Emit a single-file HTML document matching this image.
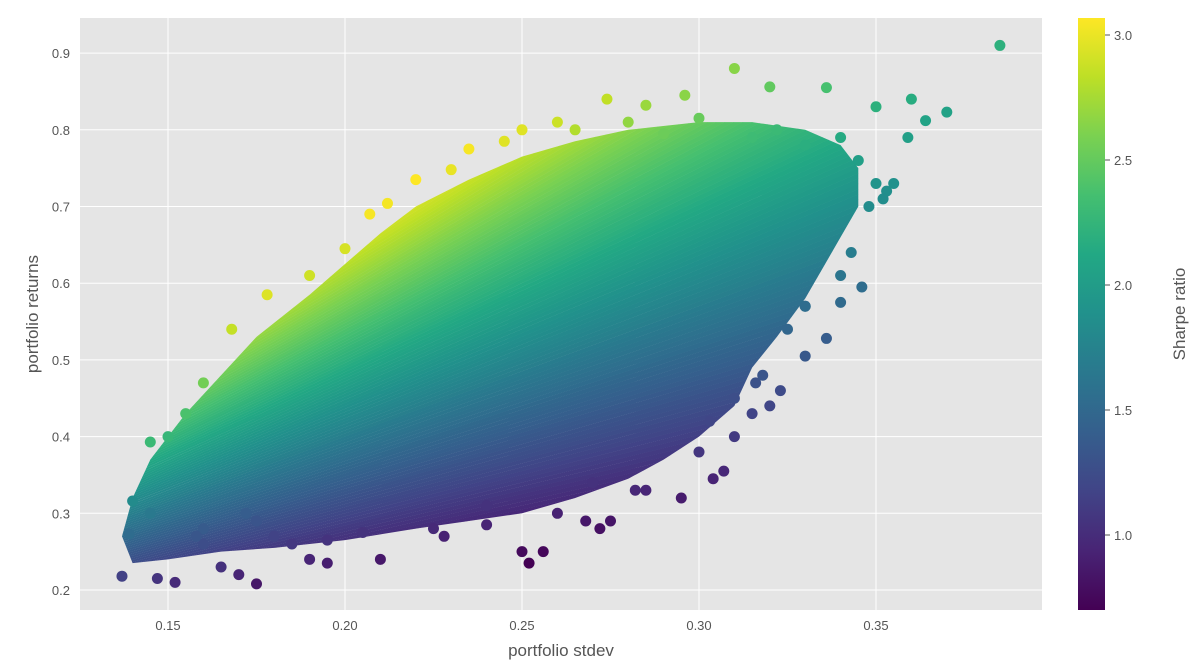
<!DOCTYPE html>
<html><head><meta charset="utf-8"><style>
html,body{margin:0;padding:0;background:#fff;width:1200px;height:672px;overflow:hidden}
svg{display:block}
text{font-family:"Liberation Sans",sans-serif}
</style></head><body>
<svg id="chart" width="1200" height="672" xmlns="http://www.w3.org/2000/svg">
<defs>
<linearGradient id="vir" x1="0" y1="1" x2="0" y2="0">
<stop offset="0" stop-color="#440154"/><stop offset="0.1" stop-color="#482475"/><stop offset="0.2" stop-color="#414487"/><stop offset="0.3" stop-color="#355f8d"/><stop offset="0.4" stop-color="#2a788e"/><stop offset="0.5" stop-color="#21918c"/><stop offset="0.6" stop-color="#22a884"/><stop offset="0.7" stop-color="#44bf70"/><stop offset="0.8" stop-color="#7ad151"/><stop offset="0.9" stop-color="#bddf26"/><stop offset="1" stop-color="#fde725"/>
</linearGradient>
<clipPath id="plotclip"><rect x="80" y="18" width="962" height="592"/></clipPath>
<clipPath id="cloudclip"><polygon id="cloudpoly"/></clipPath>
</defs>
<rect x="80" y="18" width="962" height="592" fill="#e5e5e5"/>
<g id="grid"></g>
<g id="cloud" clip-path="url(#cloudclip)"></g>
<g id="points" clip-path="url(#plotclip)"></g>
<g id="xticks"></g><g id="yticks"></g>
<text x="561" y="656" font-size="17" fill="#555" text-anchor="middle">portfolio stdev</text>
<text transform="translate(38,314) rotate(-90)" font-size="17" fill="#555" text-anchor="middle">portfolio returns</text>
<rect x="1078" y="18" width="27" height="592" fill="url(#vir)"/>
<g id="cbticks"></g>
<text transform="translate(1185,314) rotate(-90)" font-size="17" fill="#555" text-anchor="middle">Sharpe ratio</text>
</svg>
<script>
const xTicks=[0.15,0.20,0.25,0.30,0.35];
const xTickLabels=["0.15","0.20","0.25","0.30","0.35"];
const yTicks=[0.2,0.3,0.4,0.5,0.6,0.7,0.8,0.9];
const yTickLabels=["0.2","0.3","0.4","0.5","0.6","0.7","0.8","0.9"];
const cbTicks=[1.0,1.5,2.0,2.5,3.0];
const cbTickLabels=["1.0","1.5","2.0","2.5","3.0"];
const riskFree=0.06;
const cloudStd=[0.14,0.145,0.155,0.165,0.175,0.19,0.20,0.21,0.22,0.235,0.25,0.265,0.28,0.30,0.315,0.33,0.34,0.345,0.345,0.34,0.335,0.33,0.322,0.315,0.31,0.30,0.29,0.28,0.265,0.25,0.235,0.22,0.20,0.18,0.165,0.15,0.14,0.137];
const cloudRet=[0.32,0.37,0.43,0.48,0.53,0.585,0.625,0.665,0.70,0.735,0.765,0.785,0.80,0.81,0.81,0.80,0.78,0.75,0.70,0.66,0.62,0.58,0.53,0.49,0.44,0.40,0.37,0.345,0.32,0.30,0.29,0.28,0.265,0.255,0.25,0.24,0.235,0.27];
const ptStd=[0.385,0.37,0.364,0.36,0.359,0.355,0.35,0.348,0.346,0.34,0.33,0.336,0.323,0.32,0.31,0.32,0.336,0.296,0.274,0.26,0.25,0.235,0.22,0.212,0.207,0.19,0.178,0.168,0.145,0.14,0.139,0.137,0.147,0.152,0.175,0.17,0.19,0.195,0.21,0.228,0.25,0.252,0.256,0.268,0.272,0.285,0.295,0.304,0.307,0.31,0.315,0.316,0.325,0.33,0.34,0.343,0.353,0.34,0.322,0.285,0.245,0.23,0.2,0.16,0.155,0.15,0.145,0.16,0.165,0.18,0.24,0.26,0.282,0.3,0.303,0.318,0.265,0.28,0.29,0.275,0.205,0.185,0.16,0.158,0.175,0.3,0.315,0.33,0.345,0.35,0.352,0.33,0.31,0.27,0.24,0.225,0.195,0.172];
const ptRet=[0.91,0.823,0.812,0.84,0.79,0.73,0.83,0.70,0.595,0.575,0.505,0.528,0.46,0.44,0.88,0.856,0.855,0.845,0.84,0.81,0.80,0.775,0.735,0.704,0.69,0.61,0.585,0.54,0.393,0.316,0.273,0.218,0.215,0.21,0.208,0.22,0.24,0.235,0.24,0.27,0.25,0.235,0.25,0.29,0.28,0.33,0.32,0.345,0.355,0.40,0.43,0.47,0.54,0.57,0.61,0.64,0.72,0.79,0.80,0.832,0.785,0.748,0.645,0.47,0.43,0.40,0.30,0.26,0.23,0.27,0.285,0.30,0.33,0.38,0.42,0.48,0.80,0.81,0.795,0.29,0.275,0.26,0.28,0.27,0.29,0.815,0.79,0.78,0.76,0.73,0.71,0.57,0.45,0.34,0.31,0.28,0.265,0.30];

const NS="http://www.w3.org/2000/svg";
const X=v=>168+(v-0.15)*3540;
const Y=v=>590-(v-0.2)*767;
const CB=v=>535-(v-1.0)*250;
const vir=["#440154","#482475","#414487","#355f8d","#2a788e","#21918c","#22a884","#44bf70","#7ad151","#bddf26","#fde725"];
function hx(c){return [1,3,5].map(i=>parseInt(c.substr(i,2),16));}
function color(s){let t=(s-0.70)/(3.07-0.70);t=Math.max(0,Math.min(1,t))*10;const i=Math.min(9,Math.floor(t)),f=t-i;const a=hx(vir[i]),b=hx(vir[i+1]);return "rgb("+a.map((v,k)=>Math.round(v+(b[k]-v)*f)).join(",")+")";}
function mk(tag,attrs,parent){const e=document.createElementNS(NS,tag);for(const k in attrs)e.setAttribute(k,attrs[k]);parent.appendChild(e);return e;}
const grid=document.getElementById('grid');
xTicks.forEach((v,i)=>{const l=mk('line',{x1:X(v),x2:X(v),y1:18,y2:610,stroke:'#fff','stroke-width':1},grid);


const t=mk('text',{x:X(v),y:630,'font-size':13,fill:'#555','text-anchor':'middle'},document.getElementById('xticks'));t.textContent=xTickLabels[i];

});
yTicks.forEach((v,i)=>{const l=mk('line',{x1:80,x2:1042,y1:Y(v),y2:Y(v),stroke:'#fff','stroke-width':1},grid);


const t=mk('text',{x:70,y:Y(v)+5,'font-size':13,fill:'#555','text-anchor':'end'},document.getElementById('yticks'));t.textContent=yTickLabels[i];

});
cbTicks.forEach((v,i)=>{const g=document.getElementById('cbticks');mk('line',{x1:1105,x2:1110,y1:CB(v),y2:CB(v),stroke:'#555'},g);
const t=mk('text',{x:1114,y:CB(v)+5,'font-size':13,fill:'#555'},g);t.textContent=cbTickLabels[i];

});
document.getElementById('cloudpoly').setAttribute('points',cloudStd.map((s,i)=>X(s)+','+Y(cloudRet[i])).join(' '));
const cloud=document.getElementById('cloud');


const ox=X(0),oy=Y(riskFree);
for(let s=0.4;s<3.4;s+=0.02){const s2=s+0.021;
mk('polygon',{points:ox+','+oy+' '+X(0.45)+','+Y(riskFree+0.45*s)+' '+X(0.45)+','+Y(riskFree+0.45*s2),fill:color(s+0.01)},cloud);}
const pts=document.getElementById('points');
ptStd.forEach((s,i)=>{const r=ptRet[i];const c=mk('circle',{cx:X(s),cy:Y(r),r:5.5,fill:color((r-riskFree)/s)},pts);

});
</script>
</body></html>
